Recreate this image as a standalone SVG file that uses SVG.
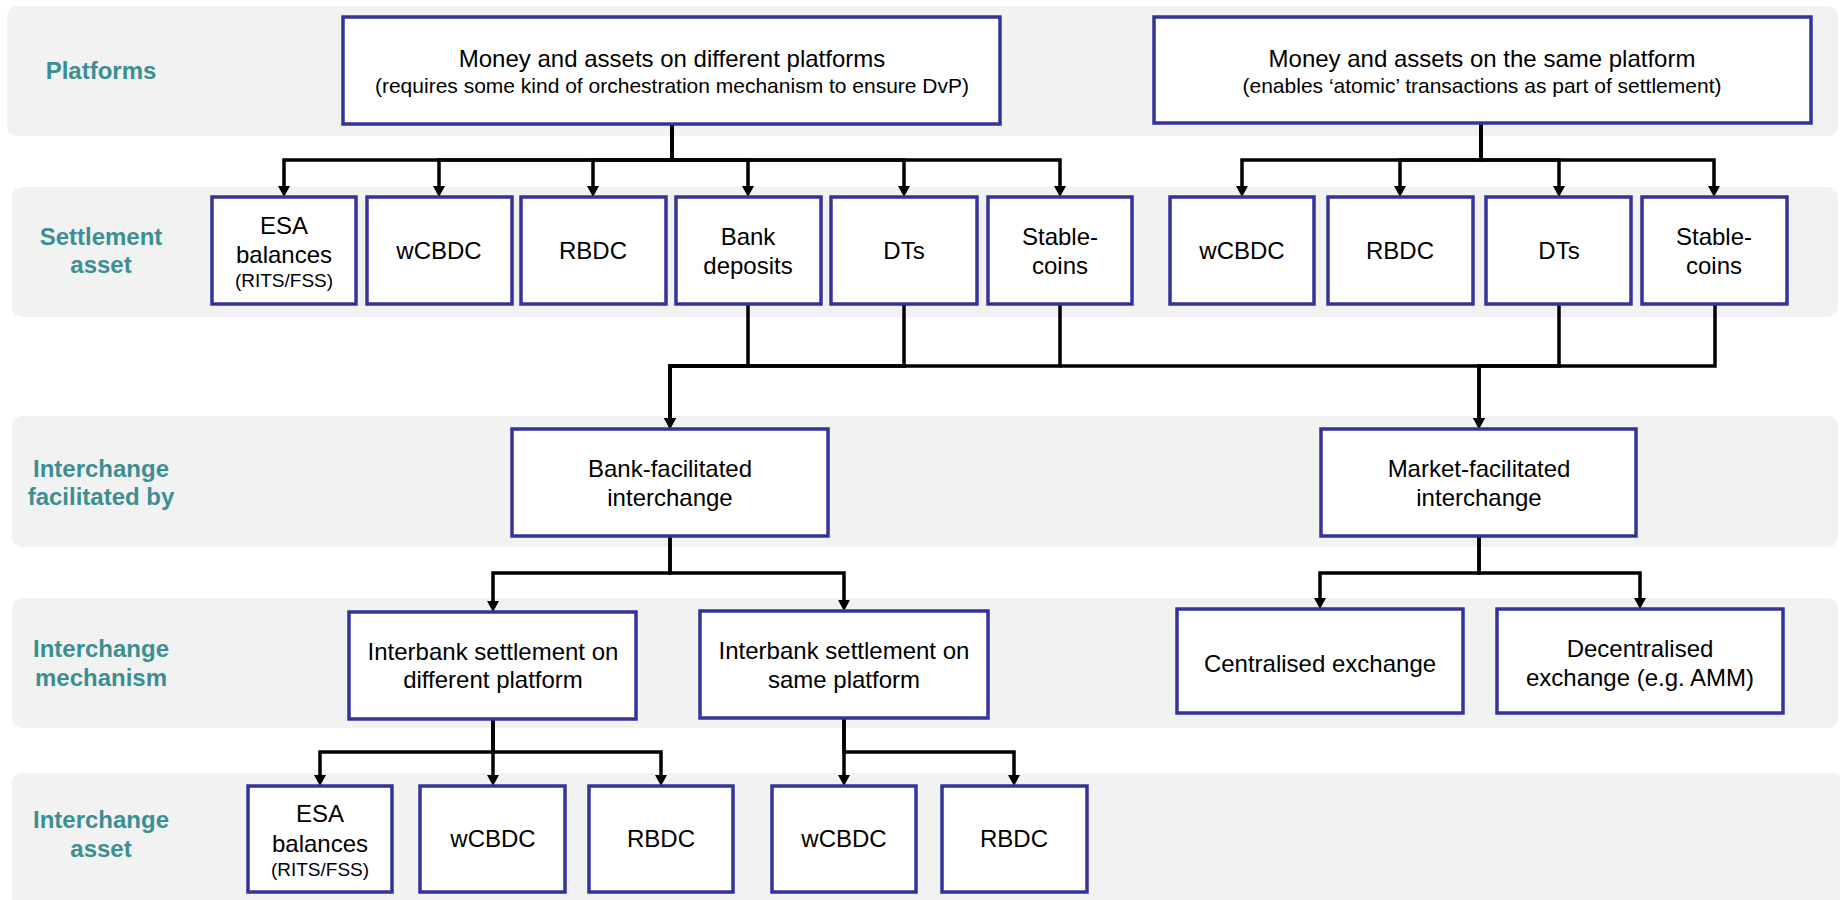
<svg xmlns="http://www.w3.org/2000/svg" width="1840" height="900" viewBox="0 0 1840 900">
<defs>
<marker id="ah" markerWidth="12" markerHeight="12" refX="0" refY="6" orient="auto" markerUnits="userSpaceOnUse"><path d="M0,0 L11,6 L0,12 z" fill="#000"/></marker>
<style>
.band{fill:#F2F2F2}
.lbl{font-family:"Liberation Sans",Arial,sans-serif;font-weight:bold;font-size:24px;fill:#3A8F93;text-anchor:middle}
.box{fill:#fff;stroke:#333399;stroke-width:3.5}
.t{font-family:"Liberation Sans",Arial,sans-serif;font-size:24px;fill:#000;text-anchor:middle}
.s{font-size:21px}
.xs{font-size:19px}
.c{fill:none;stroke:#000;stroke-width:3.5;stroke-linejoin:miter}
.a{marker-end:url(#ah)}
</style>
</defs>
<g id="bands">
<rect class="band" x="7" y="6" width="1831" height="130" rx="10"/>
<rect class="band" x="12" y="187" width="1826" height="130" rx="10"/>
<rect class="band" x="12" y="416" width="1826" height="131" rx="10"/>
<rect class="band" x="12" y="598" width="1826" height="130" rx="10"/>
<rect class="band" x="12" y="773" width="1830" height="140" rx="10"/>
</g>
<g id="labels">
<text class="lbl" x="101" y="79">Platforms</text>
<text class="lbl" x="101" y="245">Settlement</text>
<text class="lbl" x="101" y="273">asset</text>
<text class="lbl" x="101" y="477">Interchange</text>
<text class="lbl" x="101" y="505">facilitated by</text>
<text class="lbl" x="101" y="657">Interchange</text>
<text class="lbl" x="101" y="686">mechanism</text>
<text class="lbl" x="101" y="828">Interchange</text>
<text class="lbl" x="101" y="857">asset</text>
</g>
<g id="connectors">
<path class="c a" d="M672,124 V160 H284 V186"/>
<path class="c a" d="M672,124 V160 H439 V186"/>
<path class="c a" d="M672,124 V160 H593 V186"/>
<path class="c a" d="M672,124 V160 H748 V186"/>
<path class="c a" d="M672,124 V160 H904 V186"/>
<path class="c a" d="M672,124 V160 H1060 V186"/>
<path class="c a" d="M1481,123 V160 H1242 V186"/>
<path class="c a" d="M1481,123 V160 H1400 V186"/>
<path class="c a" d="M1481,123 V160 H1559 V186"/>
<path class="c a" d="M1481,123 V160 H1714 V186"/>
<path class="c a" d="M748,304 V366 H670 V418"/>
<path class="c a" d="M904,304 V366 H670 V418"/>
<path class="c a" d="M1060,304 V366 H670 V418"/>
<path class="c a" d="M1559,304 V366 H1479 V418"/>
<path class="c a" d="M1715,304 V366 H1479 V418"/>
<path class="c" d="M1060,366 H1479"/>
<path class="c a" d="M670,536 V573 H493 V601"/>
<path class="c a" d="M670,536 V573 H844 V600"/>
<path class="c a" d="M1479,536 V573 H1320 V598"/>
<path class="c a" d="M1479,536 V573 H1640 V598"/>
<path class="c a" d="M493,719 V752 H320 V775"/>
<path class="c a" d="M493,719 V752 V775"/>
<path class="c a" d="M493,719 V752 H661 V775"/>
<path class="c a" d="M844,718 V775"/>
<path class="c a" d="M844,718 V752 H1014 V775"/>
</g>
<g id="n-platform-diff">
<rect class="box" x="343" y="17" width="657" height="107"/>
<text class="t" x="672" y="67">Money and assets on different platforms</text>
<text class="t s" x="672" y="93">(requires some kind of orchestration mechanism to ensure DvP)</text>
</g>
<g id="n-platform-same">
<rect class="box" x="1154" y="17" width="657" height="106"/>
<text class="t" x="1482" y="67">Money and assets on the same platform</text>
<text class="t s" x="1482" y="93">(enables ‘atomic’ transactions as part of settlement)</text>
</g>
<g id="n-sa-esa">
<rect class="box" x="212" y="197" width="144" height="107"/>
<text class="t" x="284" y="234">ESA</text>
<text class="t" x="284" y="263">balances</text>
<text class="t xs" x="284" y="287">(RITS/FSS)</text>
</g>
<g id="n-sa-wcbdc1">
<rect class="box" x="367" y="197" width="145" height="107"/>
<text class="t" x="439" y="259">wCBDC</text>
</g>
<g id="n-sa-rbdc1">
<rect class="box" x="521" y="197" width="145" height="107"/>
<text class="t" x="593" y="259">RBDC</text>
</g>
<g id="n-sa-bank">
<rect class="box" x="676" y="197" width="145" height="107"/>
<text class="t" x="748" y="245">Bank</text>
<text class="t" x="748" y="274">deposits</text>
</g>
<g id="n-sa-dts1">
<rect class="box" x="831" y="197" width="146" height="107"/>
<text class="t" x="904" y="259">DTs</text>
</g>
<g id="n-sa-stable1">
<rect class="box" x="988" y="197" width="144" height="107"/>
<text class="t" x="1060" y="245">Stable-</text>
<text class="t" x="1060" y="274">coins</text>
</g>
<g id="n-sa-wcbdc2">
<rect class="box" x="1170" y="197" width="144" height="107"/>
<text class="t" x="1242" y="259">wCBDC</text>
</g>
<g id="n-sa-rbdc2">
<rect class="box" x="1328" y="197" width="145" height="107"/>
<text class="t" x="1400" y="259">RBDC</text>
</g>
<g id="n-sa-dts2">
<rect class="box" x="1486" y="197" width="145" height="107"/>
<text class="t" x="1559" y="259">DTs</text>
</g>
<g id="n-sa-stable2">
<rect class="box" x="1642" y="197" width="145" height="107"/>
<text class="t" x="1714" y="245">Stable-</text>
<text class="t" x="1714" y="274">coins</text>
</g>
<g id="n-bank-fac">
<rect class="box" x="512" y="429" width="316" height="107"/>
<text class="t" x="670" y="477">Bank-facilitated</text>
<text class="t" x="670" y="506">interchange</text>
</g>
<g id="n-market-fac">
<rect class="box" x="1321" y="429" width="315" height="107"/>
<text class="t" x="1479" y="477">Market-facilitated</text>
<text class="t" x="1479" y="506">interchange</text>
</g>
<g id="n-ib-diff">
<rect class="box" x="349" y="612" width="287" height="107"/>
<text class="t" x="493" y="660">Interbank settlement on</text>
<text class="t" x="493" y="688">different platform</text>
</g>
<g id="n-ib-same">
<rect class="box" x="700" y="611" width="288" height="107"/>
<text class="t" x="844" y="659">Interbank settlement on</text>
<text class="t" x="844" y="688">same platform</text>
</g>
<g id="n-central">
<rect class="box" x="1177" y="609" width="286" height="104"/>
<text class="t" x="1320" y="672">Centralised exchange</text>
</g>
<g id="n-decentral">
<rect class="box" x="1497" y="609" width="286" height="104"/>
<text class="t" x="1640" y="657">Decentralised</text>
<text class="t" x="1640" y="686">exchange (e.g. AMM)</text>
</g>
<g id="n-ia-esa">
<rect class="box" x="248" y="786" width="144" height="106"/>
<text class="t" x="320" y="822">ESA</text>
<text class="t" x="320" y="852">balances</text>
<text class="t xs" x="320" y="876">(RITS/FSS)</text>
</g>
<g id="n-ia-wcbdc1">
<rect class="box" x="420" y="786" width="145" height="106"/>
<text class="t" x="493" y="847">wCBDC</text>
</g>
<g id="n-ia-rbdc1">
<rect class="box" x="589" y="786" width="144" height="106"/>
<text class="t" x="661" y="847">RBDC</text>
</g>
<g id="n-ia-wcbdc2">
<rect class="box" x="772" y="786" width="144" height="106"/>
<text class="t" x="844" y="847">wCBDC</text>
</g>
<g id="n-ia-rbdc2">
<rect class="box" x="942" y="786" width="145" height="106"/>
<text class="t" x="1014" y="847">RBDC</text>
</g>
</svg>
